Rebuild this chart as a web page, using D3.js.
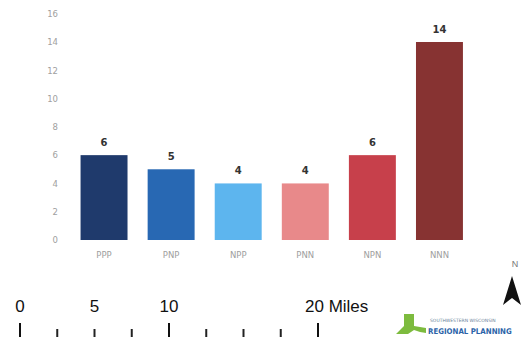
<!DOCTYPE html>
<html>
<head>
<meta charset="utf-8">
<script src="https://cdn.jsdelivr.net/npm/d3@7"></script>
<style>
  html, body { margin: 0; padding: 0; background: #fff; }
  svg { display: block; }
</style>
</head>
<body>
<svg id="chart" width="521" height="337"></svg>
<script>
// Count of sites by pattern code
const categories = ["PPP", "PNP", "NPP", "PNN", "NPN", "NNN"];
const counts = [6, 5, 4, 4, 6, 14];
const barColors = ["#1f3a6c", "#2868b3", "#5db5ee", "#e8898a", "#c7404b", "#873332"];
const yTickValues = [0, 2, 4, 6, 8, 10, 12, 14, 16];

// Map scale bar (miles)
const scaleLabels = [0, 5, 10, 20];
const scaleMajorTicks = [0, 10, 20];
const scaleMinorTicks = [2.5, 5, 7.5, 12.5, 15, 17.5];

const svg = d3.select("#chart");

const x = d3.scaleBand()
  .domain(categories)
  .range([70.5, 473])
  .paddingInner(0.3)
  .paddingOuter(0.15);

const y = d3.scaleLinear()
  .domain([0, 14])
  .range([240, 42]);

// Y axis labels only (no axis line)
const yAxis = svg.append("g")
  .attr("transform", "translate(58,0)")
  .call(d3.axisLeft(y).tickValues(yTickValues).tickSize(0).tickPadding(0));
yAxis.select(".domain").remove();
yAxis.selectAll("text")
  .attr("font-family", "DejaVu Sans, sans-serif")
  .attr("font-size", 8.5)
  .attr("fill", "#a0a0a0");

// Bars
svg.append("g").selectAll("rect")
  .data(categories)
  .join("rect")
  .attr("x", d => x(d))
  .attr("width", x.bandwidth())
  .attr("y", (d, i) => y(counts[i]))
  .attr("height", (d, i) => y(0) - y(counts[i]))
  .attr("fill", (d, i) => barColors[i]);

// Value labels
svg.append("g").selectAll("text")
  .data(categories)
  .join("text")
  .attr("x", d => x(d) + x.bandwidth() / 2)
  .attr("y", (d, i) => y(counts[i]) - 9)
  .attr("text-anchor", "middle")
  .attr("font-family", "DejaVu Sans, sans-serif")
  .attr("font-weight", "bold")
  .attr("font-size", 10)
  .attr("fill", "#333")
  .text((d, i) => counts[i]);

// Category labels
const xAxis = svg.append("g")
  .attr("transform", "translate(0,252)")
  .call(d3.axisBottom(x).tickSize(0).tickPadding(0));
xAxis.select(".domain").remove();
xAxis.selectAll("text")
  .attr("font-family", "DejaVu Sans, sans-serif")
  .attr("font-size", 8.5)
  .attr("fill", "#a0a0a0");

// Scale bar
const miles = d3.scaleLinear().domain([0, 20]).range([20, 318]);
const scaleG = svg.append("g")
  .attr("font-family", "Liberation Sans, Arial, sans-serif")
  .attr("font-size", 17)
  .attr("fill", "#111");
scaleG.selectAll("text")
  .data(scaleLabels)
  .join("text")
  .attr("x", d => miles(d))
  .attr("y", 312)
  .attr("text-anchor", d => d === 20 ? "start" : "middle")
  .attr("dx", d => d === 20 ? -13 : 0)
  .text(d => d === 20 ? "20 Miles" : d);
scaleG.selectAll("line.major")
  .data(scaleMajorTicks)
  .join("line")
  .attr("class", "major")
  .attr("x1", d => miles(d)).attr("x2", d => miles(d))
  .attr("y1", 323).attr("y2", 337)
  .attr("stroke", "#111").attr("stroke-width", 2);
scaleG.selectAll("line.minor")
  .data(scaleMinorTicks)
  .join("line")
  .attr("class", "minor")
  .attr("x1", d => miles(d)).attr("x2", d => miles(d))
  .attr("y1", 329).attr("y2", 337)
  .attr("stroke", "#222").attr("stroke-width", 2);

// North arrow
svg.append("text")
  .attr("x", 515).attr("y", 267)
  .attr("text-anchor", "middle")
  .attr("font-family", "Liberation Sans, Arial, sans-serif")
  .attr("font-size", 9)
  .attr("fill", "#777")
  .text("N");
svg.append("path")
  .attr("d", "M512,276 L521,305 L512,298 L503,305 Z")
  .attr("fill", "#111");

// Agency logo
const logo = svg.append("g");
logo.append("path")
  .attr("d", "M404,314 L414,314 L414,326 L426,328 L426,333 L420,332 L414,330 L408,334 L396,334 L402,328 L404,326 Z")
  .attr("fill", "#7dbb3e");
logo.append("text")
  .attr("x", 430).attr("y", 322)
  .attr("font-family", "DejaVu Sans, sans-serif")
  .attr("font-size", 4.5)
  .attr("fill", "#6a7f99")
  .text("SOUTHWESTERN WISCONSIN");
logo.append("text")
  .attr("x", 428).attr("y", 334)
  .attr("font-family", "DejaVu Sans Condensed, DejaVu Sans, sans-serif")
  .attr("font-weight", "bold")
  .attr("font-size", 7.8)
  .attr("fill", "#2b63a8")
  .text("REGIONAL PLANNING");
</script>
</body>
</html>
